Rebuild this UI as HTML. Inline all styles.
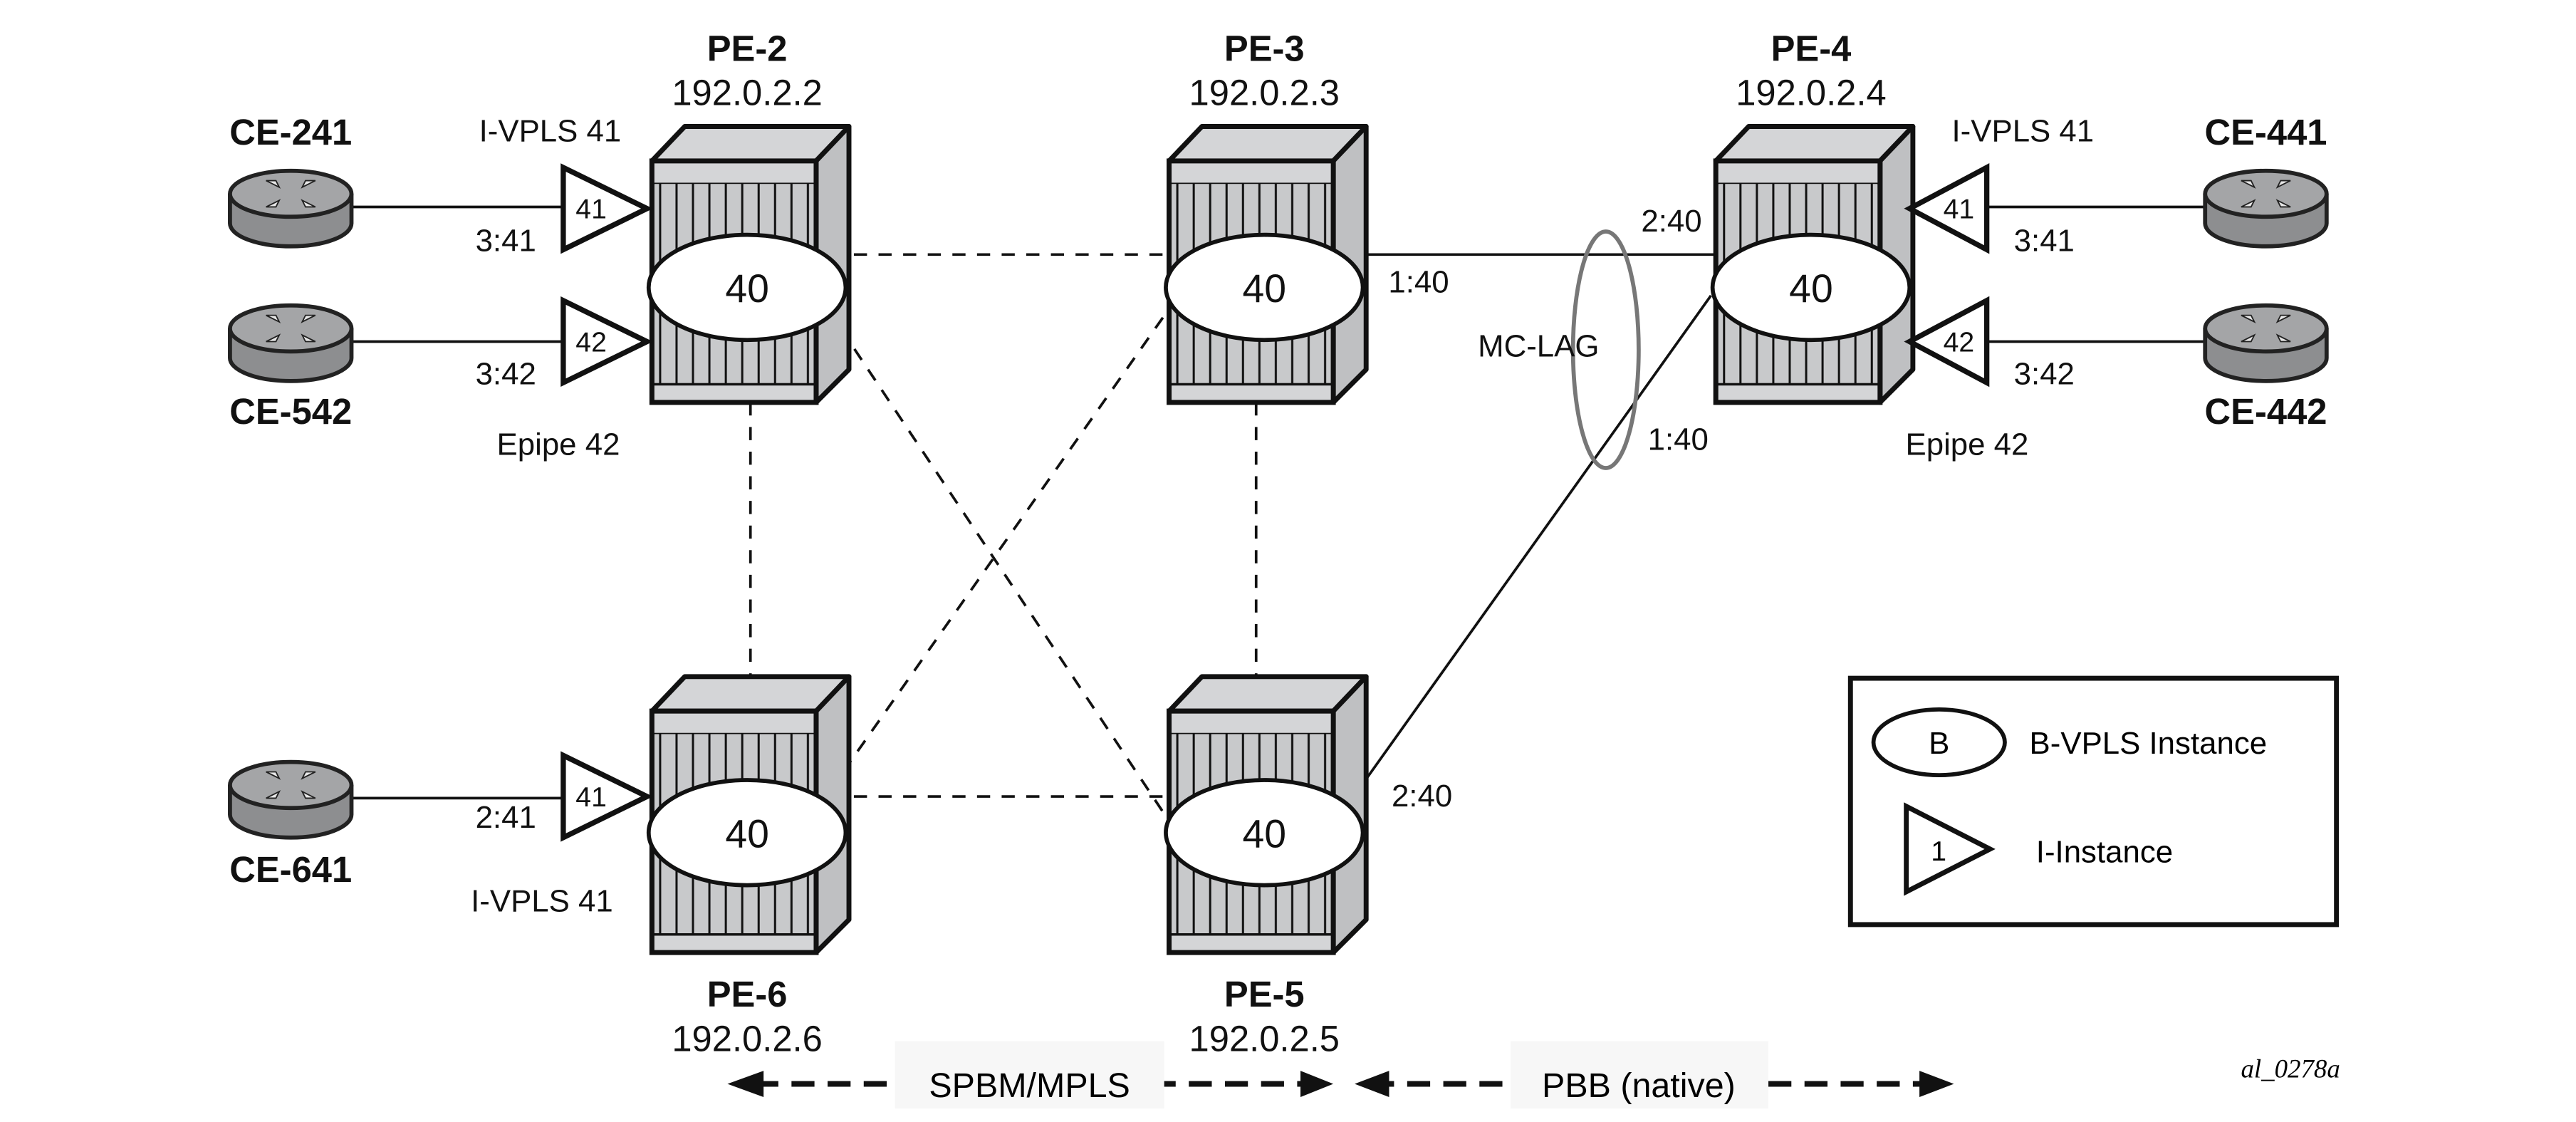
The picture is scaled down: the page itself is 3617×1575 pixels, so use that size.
<!DOCTYPE html>
<html><head><meta charset="utf-8"><style>html,body{margin:0;padding:0;background:#fff}svg{display:block}</style></head>
<body>
<svg xmlns="http://www.w3.org/2000/svg" width="3617" height="1575" viewBox="0 0 1550 675" font-family="Liberation Sans, sans-serif">
<defs>
<pattern id="st" x="0" y="0" width="10" height="10" patternUnits="userSpaceOnUse"><rect width="10" height="10" fill="#c8c9cb"/><line x1="5" y1="0" x2="5" y2="10" stroke="#111" stroke-width="1.3"/></pattern>
<g id="pe">
<polygon points="0,21 20,0 120,0 100,21" fill="#d4d5d7" stroke="#111" stroke-width="3" stroke-linejoin="round"/>
<polygon points="100,21 120,0 120,148 100,168" fill="#bfc0c2" stroke="#111" stroke-width="3" stroke-linejoin="round"/>
<rect x="0" y="21" width="100" height="147" fill="#c8c9cb" stroke="#111" stroke-width="3"/>
<rect x="0" y="21" width="100" height="14" fill="#d4d5d7" stroke="#111" stroke-width="1.5"/>
<rect x="1.5" y="35" width="97" height="122" fill="url(#st)"/>
<rect x="0" y="157" width="100" height="11" fill="#d4d5d7" stroke="#111" stroke-width="1.5"/>
<rect x="0" y="21" width="100" height="147" fill="none" stroke="#111" stroke-width="3"/>
</g>
<g id="ce">
<path d="M-37,0 V18 A37,14 0 0 0 37,18 V0" fill="#8d8e90" stroke="#222" stroke-width="2.5"/>
<ellipse cx="0" cy="0" rx="37" ry="14" fill="#a4a5a7" stroke="#222" stroke-width="2.5"/>
<g fill="#e8e8e8" stroke="#222" stroke-width="0.8"><path d="M-15,-8 l8,4 l-2,-4 z"/><path d="M15,-8 l-8,4 l2,-4 z"/><path d="M-15,8 l8,-4 l-2,4z"/><path d="M15,8 l-8,-4 l2,4z"/></g>
</g>
</defs>
<g transform="scale(0.988)">
<g stroke="#111" stroke-width="1.6" stroke-dasharray="8,7" fill="none">
<line x1="505" y1="155" x2="712" y2="155"/>
<line x1="457" y1="245" x2="457" y2="412"/>
<line x1="765" y1="245" x2="765" y2="412"/>
<line x1="505" y1="485" x2="712" y2="485"/>
<line x1="512" y1="200" x2="712" y2="500"/>
<line x1="505" y1="482" x2="712" y2="188"/>
</g>
<g stroke="#111" stroke-width="1.6" fill="none">
<line x1="825" y1="155" x2="1045" y2="155"/>
<line x1="823" y1="487" x2="1042" y2="180"/>
<line x1="215" y1="126" x2="343" y2="126"/>
<line x1="215" y1="208" x2="343" y2="208"/>
<line x1="215" y1="486" x2="343" y2="486"/>
<line x1="1210" y1="126" x2="1342" y2="126"/>
<line x1="1210" y1="208" x2="1342" y2="208"/>
</g>
<use href="#pe" x="397" y="77"/><use href="#pe" x="712" y="77"/><use href="#pe" x="1045" y="77"/>
<use href="#pe" x="397" y="412"/><use href="#pe" x="712" y="412"/>
<g fill="#fff" stroke="#111" stroke-width="2.5">
<ellipse cx="455" cy="175" rx="60" ry="32"/><ellipse cx="770" cy="175" rx="60" ry="32"/><ellipse cx="1103" cy="175" rx="60" ry="32"/>
<ellipse cx="455" cy="507" rx="60" ry="32"/><ellipse cx="770" cy="507" rx="60" ry="32"/>
</g>
<g fill="#fff" stroke="#111" stroke-width="3.2">
<polygon points="343,102 343,152 394,127"/><polygon points="343,183 343,233 394,208"/><polygon points="343,460 343,510 394,485"/>
<polygon points="1210,102 1210,152 1163,127"/><polygon points="1210,183 1210,233 1163,208"/>
</g>
<ellipse cx="978" cy="213" rx="20" ry="72" fill="none" stroke="#777" stroke-width="2.5"/>
<use href="#ce" x="177" y="118"/><use href="#ce" x="177" y="200"/><use href="#ce" x="177" y="478"/>
<use href="#ce" x="1380" y="118"/><use href="#ce" x="1380" y="200"/>
<g font-size="24" text-anchor="middle" fill="#111">
<text x="455" y="184">40</text><text x="770" y="184">40</text><text x="1103" y="184">40</text><text x="455" y="516">40</text><text x="770" y="516">40</text>
</g>
<g font-size="17" text-anchor="middle" fill="#111">
<text x="360" y="133">41</text><text x="360" y="214">42</text><text x="360" y="491">41</text>
<text x="1193" y="133">41</text><text x="1193" y="214">42</text>
</g>
<g font-size="22" font-weight="bold" text-anchor="middle" fill="#111">
<text x="455" y="37">PE-2</text><text x="770" y="37">PE-3</text><text x="1103" y="37">PE-4</text>
<text x="455" y="613">PE-6</text><text x="770" y="613">PE-5</text>
<text x="177" y="88">CE-241</text><text x="177" y="258">CE-542</text><text x="177" y="537">CE-641</text>
<text x="1380" y="88">CE-441</text><text x="1380" y="258">CE-442</text>
</g>
<g font-size="22" text-anchor="middle" fill="#111">
<text x="455" y="64">192.0.2.2</text><text x="770" y="64">192.0.2.3</text><text x="1103" y="64">192.0.2.4</text>
<text x="455" y="640">192.0.2.6</text><text x="770" y="640">192.0.2.5</text>
</g>
<g font-size="19" fill="#111" text-anchor="middle">
<text x="335" y="86">I-VPLS 41</text><text x="308" y="153">3:41</text><text x="308" y="234">3:42</text><text x="340" y="277">Epipe 42</text>
<text x="308" y="504">2:41</text><text x="330" y="555">I-VPLS 41</text>
<text x="1232" y="86">I-VPLS 41</text><text x="1245" y="153">3:41</text><text x="1245" y="234">3:42</text><text x="1198" y="277">Epipe 42</text>
<text x="864" y="178">1:40</text><text x="1018" y="141">2:40</text><text x="1022" y="274">1:40</text><text x="866" y="491">2:40</text>
<text x="937" y="217">MC-LAG</text>
</g>
<rect x="1127" y="413" width="296" height="150" fill="#fff" stroke="#111" stroke-width="3"/>
<ellipse cx="1181" cy="452" rx="40" ry="20" fill="#fff" stroke="#111" stroke-width="2.5"/>
<text x="1181" y="459" font-size="19" text-anchor="middle">B</text>
<text x="1236" y="459" font-size="19">B-VPLS Instance</text>
<polygon points="1161,491 1161,543 1212,517" fill="#fff" stroke="#111" stroke-width="3"/>
<text x="1176" y="524" font-size="17">1</text>
<text x="1240" y="525" font-size="19">I-Instance</text>
<g stroke="#111" stroke-width="3.5" stroke-dasharray="14,8">
<line x1="460" y1="660" x2="795" y2="660"/><line x1="835" y1="660" x2="1170" y2="660"/>
</g>
<g fill="#111">
<polygon points="443,660 465,652 465,668"/><polygon points="812,660 792,652 792,668"/>
<polygon points="825,660 846,652 846,668"/><polygon points="1190,660 1169,652 1169,668"/>
</g>
<rect x="545" y="634" width="164" height="41" fill="#f7f7f7"/>
<rect x="920" y="634" width="157" height="41" fill="#f7f7f7"/>
<text x="627" y="668" font-size="21" text-anchor="middle">SPBM/MPLS</text>
<text x="998" y="668" font-size="21" text-anchor="middle">PBB (native)</text>
<text x="1395" y="656" font-size="16" font-style="italic" font-family="Liberation Serif, serif" text-anchor="middle">al_0278a</text>
</g>
</svg>
</body></html>
